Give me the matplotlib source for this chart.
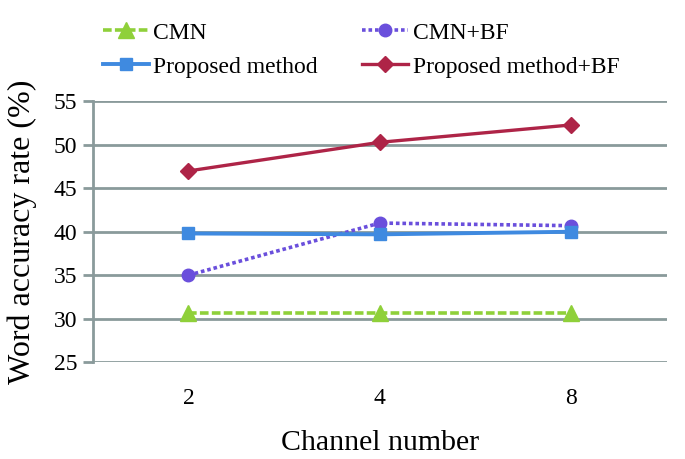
import matplotlib.pyplot as plt

# data
channels = ["2", "4", "8"]
cmn = [30.7, 30.7, 30.7]
cmn_bf = [35.0, 41.0, 40.7]
proposed = [39.8, 39.7, 40.0]
proposed_bf = [47.0, 50.3, 52.3]

plt.rcParams['font.family'] = ['Liberation Serif', 'DejaVu Serif']
grid_col = '#8a9a9b'

fig = plt.figure(figsize=(6.85, 4.59), dpi=100)
ax = fig.add_axes([0.1353, 0.2113, 0.8384, 0.5676])

x = range(len(channels))
l1, = ax.plot(x, cmn, color='#8fd03a', lw=2.6, ls=(0, (2.4, 0.9)),
              marker='^', ms=11, label='CMN')
l2, = ax.plot(x, cmn_bf, color='#6a4fdc', lw=2.6, ls=(0, (1.0, 0.8)),
              marker='o', ms=9, label='CMN+BF')
l3, = ax.plot(x, proposed, color='#3f8ae0', lw=2.8, marker='s', ms=9,
              label='Proposed method')
l4, = ax.plot(x, proposed_bf, color='#ae2447', lw=2.4, marker='D', ms=8.5,
              label='Proposed method+BF')

ax.set_xlim(-0.5, 2.5)
ax.set_ylim(25, 55)
ax.set_yticks(range(25, 56, 5))
ax.set_xticks(list(x))
ax.set_xticklabels(channels)
ax.yaxis.grid(True, color=grid_col, lw=2)
ax.set_axisbelow(True)
for s in ['top', 'right', 'bottom']:
    ax.spines[s].set_visible(False)
ax.spines['left'].set_color(grid_col)
ax.spines['left'].set_linewidth(2)
ax.tick_params(axis='y', length=7, width=2, color=grid_col, labelsize=17, pad=4)
ax.tick_params(axis='x', length=0, labelsize=17, pad=19)

ax.set_ylabel('Word accuracy rate (%)', fontsize=23, labelpad=12)
ax.set_xlabel('Channel number', fontsize=21.5, labelpad=15)

fig.legend(handles=[l1, l3, l2, l4], ncol=2, frameon=False, fontsize=17,
           loc='upper left', bbox_to_anchor=(0.143, 0.962), borderaxespad=0,
           handlelength=1.95, handletextpad=0.2, columnspacing=1.85,
           labelspacing=0.53, borderpad=0.2)

fig.savefig('out.png', dpi=100)
